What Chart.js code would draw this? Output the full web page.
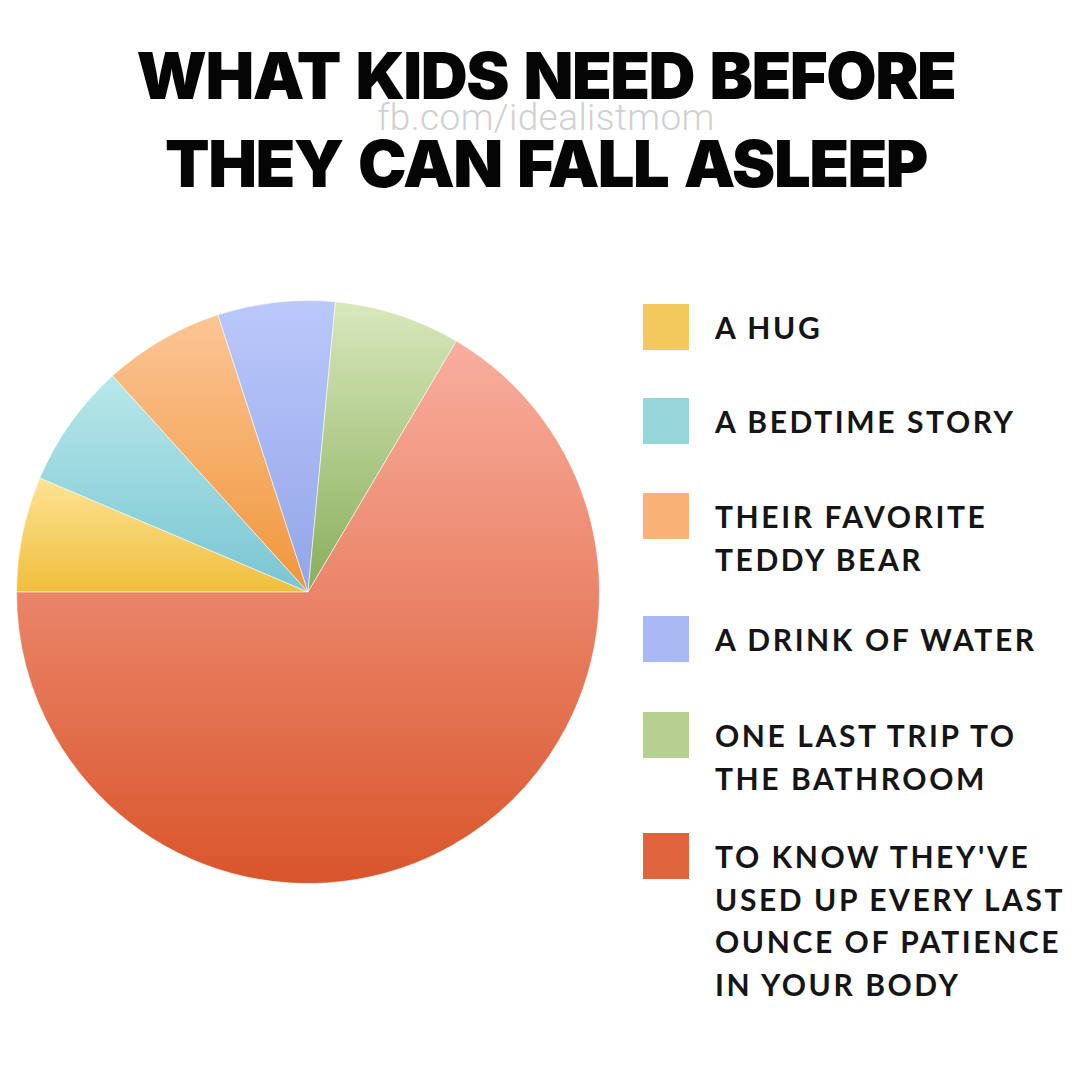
<!DOCTYPE html>
<html lang="en">
<head>
  <meta charset="UTF-8">
  <style>
    html, body {
      margin: 0;
      padding: 0;
      background: #fff;
    }
    .page {
      position: relative;
      width: 1080px;
      height: 1080px;
      overflow: hidden;
      background: #fff;
    }
    .title {
      position: absolute;
      left: 0;
      width: 1092px;
      text-align: center;
      font-family: Inter, "DejaVu Sans", sans-serif;
      font-weight: 900;
      font-size: 65px;
      letter-spacing: -1.5px;
      word-spacing: 4px;
      color: #050505;
      line-height: 1;
      white-space: nowrap;
    }
    .watermark {
      position: absolute;
      left: 0;
      width: 1092px;
      top: 99px;
      text-align: center;
      font-family: Roboto, "Open Sans", sans-serif;
      font-weight: 300;
      font-size: 37px;
      letter-spacing: 0.4px;
      color: #d0d0d0;
      line-height: 1;
    }
    .pie-box {
      position: absolute;
      left: 16px;
      top: 300px;
      width: 584px;
      height: 584px;
    }
    .legend-item {
      position: absolute;
      left: 643px;
      display: flex;
      align-items: flex-start;
    }
    .legend-box {
      width: 46px;
      height: 46px;
      flex: none;
    }
    .legend-text {
      margin-left: 26px;
      font-family: Lato, "Open Sans", sans-serif;
      font-weight: 700;
      font-size: 30px;
      letter-spacing: 2.6px;
      line-height: 42.5px;
      color: #151515;
      white-space: nowrap;
    }
  </style>
</head>
<body>
  <div class="page" id="page">
    <div class="title" style="top:43px">WHAT KIDS NEED BEFORE</div>
    <div class="watermark">fb.com/idealistmom</div>
    <div class="title" style="top:131px">THEY CAN FALL ASLEEP</div>
    <div class="pie-box"><canvas id="pie"></canvas></div>
  </div>

  <script src="https://cdn.jsdelivr.net/npm/chart.js"></script>
  <script>
    // categories (legend lines) and share of the pie
    const categoryLines = [
      ['A HUG'],
      ['A BEDTIME STORY'],
      ['THEIR FAVORITE', 'TEDDY BEAR'],
      ['A DRINK OF WATER'],
      ['ONE LAST TRIP TO', 'THE BATHROOM'],
      ['TO KNOW THEY\'VE', 'USED UP EVERY LAST', 'OUNCE OF PATIENCE', 'IN YOUR BODY']
    ];
    const shares = [6.4, 6.9, 6.7, 6.5, 7.0, 66.5];

    // slice gradient colours (top -> bottom) and legend swatches
    const topColors = ['#fde395', '#b8e8ea', '#fcc596', '#bac8fb', '#d8e8bc', '#f9ae9f'];
    const bottomColors = ['#efbf3c', '#79c5d2', '#f0963a', '#93a5e8', '#88ae5a', '#d9552b'];
    const swatchColors = ['#f3c95d', '#95d6da', '#f9b273', '#a8b9f6', '#b6d08f', '#e0653f'];

    // vertical centre of the first legend line, per item
    const legendRowY = [327, 421, 516, 639, 735, 856];

    const labels = categoryLines.map(l => l.join(' '));
    const total = shares.reduce((a, b) => a + b, 0);
    const rotation = 270; // start at 9 o'clock, go clockwise

    // gradient spanning each slice's own vertical extent
    function sliceGradient(context) {
      const chart = context.chart;
      const area = chart.chartArea;
      const i = context.dataIndex;
      if (!area) return swatchColors[i];
      const cx = (area.left + area.right) / 2;
      const cy = (area.top + area.bottom) / 2;
      const r = Math.min(area.right - area.left, area.bottom - area.top) / 2;
      let before = 0;
      for (let k = 0; k < i; k++) before += shares[k];
      const a0 = rotation * Math.PI / 180 - Math.PI / 2 + before / total * Math.PI * 2;
      const a1 = a0 + shares[i] / total * Math.PI * 2;
      let yMin = cy, yMax = cy;
      for (let s = 0; s <= 60; s++) {
        const y = cy + r * Math.sin(a0 + (a1 - a0) * s / 60);
        yMin = Math.min(yMin, y);
        yMax = Math.max(yMax, y);
      }
      const g = chart.ctx.createLinearGradient(0, yMin, 0, yMax);
      g.addColorStop(0, topColors[i]);
      g.addColorStop(1, bottomColors[i]);
      return g;
    }

    const ctx = document.getElementById('pie').getContext('2d');
    const pieChart = new Chart(ctx, {
      type: 'pie',
      data: {
        labels: labels,
        datasets: [{
          data: shares,
          backgroundColor: sliceGradient,
          borderColor: 'rgba(255,255,255,0.55)',
          borderWidth: 1
        }]
      },
      options: {
        responsive: true,
        maintainAspectRatio: false,
        animation: false,
        rotation: rotation,
        layout: { padding: 0 },
        plugins: {
          legend: { display: false },
          tooltip: { enabled: false }
        }
      }
    });

    // html legend built from the same arrays
    const page = document.getElementById('page');
    categoryLines.forEach((lines, i) => {
      const item = document.createElement('div');
      item.className = 'legend-item';
      item.style.top = (legendRowY[i] - 23) + 'px';
      const box = document.createElement('div');
      box.className = 'legend-box';
      box.style.background = swatchColors[i];
      const text = document.createElement('div');
      text.className = 'legend-text';
      text.style.marginTop = '2px';
      text.innerHTML = lines.map(l => l.replace(/&/g, '&amp;')).join('<br>');
      item.appendChild(box);
      item.appendChild(text);
      page.appendChild(item);
    });
  </script>
</body>
</html>
